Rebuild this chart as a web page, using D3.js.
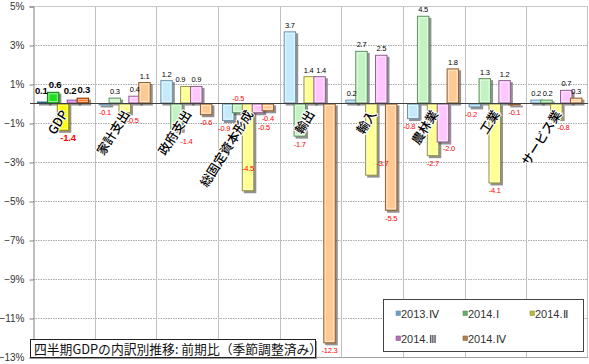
<!DOCTYPE html>
<html><head><meta charset="utf-8">
<script src="https://cdn.jsdelivr.net/npm/d3@7"></script>
<style>body{margin:0;background:#fff} svg{display:block}</style>
</head><body><svg id="c" width="589" height="364"></svg>
<script>
const categories = ["GDP","家計支出","政府支出","総固定資本形成","輸出","輸入","農林業","工業","サービス業"];
const seriesNames = ["2013.Ⅳ","2014.Ⅰ","2014.Ⅱ","2014.Ⅲ","2014.Ⅳ"];
const s2013IV  = [0.1,-0.1, 1.2,-0.9,  3.7, 0.2,-0.8,-0.2, 0.2];
const s2014I   = [0.6, 0.3,-1.4,-0.5, -1.7, 2.7, 4.5, 1.3, 0.2];
const s2014II  = [-1.4,-0.5,0.9,-4.5,  1.4,-3.7,-2.7,-4.1,-0.8];
const s2014III = [0.2, 0.4, 0.9,-0.5,  1.4, 2.5,-2.0, 1.2, 0.7];
const s2014IV  = [0.3, 1.1,-0.6,-0.4,-12.3,-5.5, 1.8,-0.1, 0.3];
const yTicks = [5,3,1,-1,-3,-5,-7,-9,-11,-13];
const title = "四半期GDPの内訳別推移: 前期比（季節調整済み）";

const series = [s2013IV, s2014I, s2014II, s2014III, s2014IV];

// styles
const pastel = [
  {fill:"#c4eafc", stroke:"#6f93ad", mark:"#6f9cc0"},
  {fill:"#c3f3c3", stroke:"#5e935e", mark:"#6aaa6a"},
  {fill:"#ffff94", stroke:"#94943e", mark:"#b8b84a"},
  {fill:"#ffc6ff", stroke:"#8f5f8f", mark:"#b070b8"},
  {fill:"#ffc993", stroke:"#8f5f30", mark:"#b08050"}
];
const strong = [
  {fill:"#3b93cf", stroke:"#25607f"},
  {fill:"#1fe01f", stroke:"#157a15"},
  {fill:"#ffff00", stroke:"#8a8a00"},
  {fill:"#e9a2f7", stroke:"#8a5a9a"},
  {fill:"#ff6a10", stroke:"#8a3a00"}
];
// label nudges (layout only): key "cat|series" -> [dx, dy]
const nudge = {
  "0|0":[-2,-4], "0|1":[2,0], "0|2":[5,0], "0|3":[-3,-2], "0|4":[1,-1],
  "1|2":[8,0], "2|1":[10,3], "2|2":[-6,0],
  "3|0":[-4,0], "3|1":[0,-22.5], "3|2":[0,-30.5], "3|3":[6,7],
  "4|2":[-1,0], "4|3":[1.5,0],
  "5|2":[11,-20], "6|0":[-4,0], "6|3":[6,-2], "7|0":[-4,0],
  "8|0":[-0.5,0], "8|1":[1,0], "8|2":[7,1]
};

const svg = d3.select("#c");
const x = d3.scaleBand().domain(categories).range([33,588]);
const inner = d3.scaleLinear().domain([0,4]).range([4,43.6]);
const barW = 12.5;
const y = d3.scaleLinear().domain([-13,5]).range([357,6]);

// plot frame & grid
const g = svg.append("g");
g.selectAll("line.hg").data(yTicks.filter(t=>t!==5 && t!==-13)).enter().append("line")
  .attr("x1",33).attr("x2",588).attr("y1",d=>y(d)+0.5).attr("y2",d=>y(d)+0.5)
  .attr("stroke","#a8a8a8").attr("stroke-dasharray","1.5,1");
g.selectAll("line.vg").data(categories.slice(1)).enter().append("line")
  .attr("x1",d=>Math.round(x(d))+0.5).attr("x2",d=>Math.round(x(d))+0.5)
  .attr("y1",y(5)).attr("y2",y(-13)).attr("stroke","#c0c0c0");
g.append("line").attr("x1",33).attr("x2",588).attr("y1",y(5)+0.5).attr("y2",y(5)+0.5).attr("stroke","#c8c8c8");
g.append("line").attr("x1",33).attr("x2",588).attr("y1",y(-13)+0.5).attr("y2",y(-13)+0.5).attr("stroke","#a0a0a0");
g.append("line").attr("x1",587.5).attr("x2",587.5).attr("y1",y(5)).attr("y2",y(-13)).attr("stroke","#c0c0c0");

// y axis
const yAxis = d3.axisLeft(y).tickValues(yTicks).tickSize(4).tickPadding(5)
  .tickFormat(d => (d<0?"−"+Math.abs(d):d) + "%");
const ya = svg.append("g").attr("transform","translate(33.5,0.5)").call(yAxis);
ya.select(".domain").attr("stroke","#808080");
ya.selectAll(".tick line").attr("stroke","#808080");
ya.selectAll(".tick text").attr("font-family","Liberation Sans Narrow, Liberation Sans, sans-serif")
  .attr("font-size",10).attr("fill","#333");

// bars
const bars = svg.append("g");
categories.forEach((c,ci)=>{
  series.forEach((s,si)=>{
    const v = s[ci];
    const st = ci===0 ? strong[si] : pastel[si];
    const x0 = x(c)+inner(si);
    const y0 = Math.min(y(v), y(0));
    const h = Math.max(Math.abs(y(v)-y(0)), 1);
    const bg = bars.append("g");
    bg.append("rect").attr("x",x0+2).attr("y",y0+2).attr("width",barW).attr("height",h)
      .attr("fill","#4a4a4a").attr("opacity",0.6);
    bg.append("rect").attr("x",x0+0.5).attr("y",y0+0.5).attr("width",barW-1).attr("height",Math.max(h-1,0.5))
      .attr("fill",st.fill).attr("stroke",st.stroke);
    if (h>5) bg.append("rect").attr("x",x0+2).attr("y",y0+2).attr("width",barW-4).attr("height",h-4)
      .attr("fill","none").attr("stroke","#fff").attr("stroke-opacity",0.55);
  });
});

// zero line
svg.append("line").attr("x1",30).attr("x2",588).attr("y1",y(0)).attr("y2",y(0))
  .attr("stroke","#404040").attr("stroke-width",1.2);

// category labels
svg.append("g").selectAll("text").data(categories).enter().append("text")
  .attr("transform",d=>`translate(${x(d)+x.bandwidth()/2+1},${y(0)+8}) rotate(-58)`)
  .attr("text-anchor","end").attr("dy","0.35em")
  .attr("font-family","Noto Sans CJK JP, sans-serif").attr("font-size",12.5)
  .attr("font-weight",500)
  .attr("fill","#000").attr("stroke","#fff").attr("stroke-width",2).attr("paint-order","stroke")
  .text(d=>d);

// value labels
const lab = svg.append("g");
categories.forEach((c,ci)=>{
  series.forEach((s,si)=>{
    const v = s[ci];
    const big = ci===0;
    const cx = x(c)+inner(si)+barW/2;
    const nd = nudge[ci+"|"+si] || [0,0];
    let yy = v>=0 ? y(v) - (big?4:3.5) : y(v) + 10;
    lab.append("text").attr("x",cx+nd[0]).attr("y",yy+nd[1]).attr("text-anchor","middle")
      .attr("font-family","Liberation Sans, sans-serif")
      .attr("font-size",big?9.5:7.5).attr("font-weight",big?"bold":"normal")
      .attr("letter-spacing",big?-0.2:-0.25)
      .attr("fill",v<0?"#ff0000":"#000")
      .text(v.toFixed(1));
  });
});

// legend
const lg = svg.append("g");
lg.append("rect").attr("x",383.5).attr("y",299.5).attr("width",200).attr("height",52)
  .attr("fill","#fff").attr("stroke","#444");
const lx = [398,465,532], lyy = [313,338];
seriesNames.forEach((n,i)=>{
  const px = lx[i%3], py = lyy[Math.floor(i/3)];
  lg.append("rect").attr("x",px-2).attr("y",py-2).attr("width",4.5).attr("height",4.5)
    .attr("fill",pastel[i].mark).attr("stroke",pastel[i].stroke).attr("stroke-width",0.6);
  lg.append("text").attr("x",px+3).attr("y",py+4.5)
    .attr("font-family","Liberation Sans, sans-serif").attr("font-size",11).attr("fill","#333")
    .text(n);
});

// title box
const tb = svg.append("g");
tb.append("rect").attr("x",32).attr("y",341).attr("width",285).attr("height",18).attr("fill","#999");
tb.append("rect").attr("x",30.5).attr("y",339.5).attr("width",285).attr("height",18)
  .attr("fill","#fff").attr("stroke","#222");
tb.append("text").attr("x",34).attr("y",353.5)
  .attr("font-family","Noto Sans CJK JP, sans-serif").attr("font-size",12.8).attr("fill","#111")
  .text(title);
</script></body></html>
